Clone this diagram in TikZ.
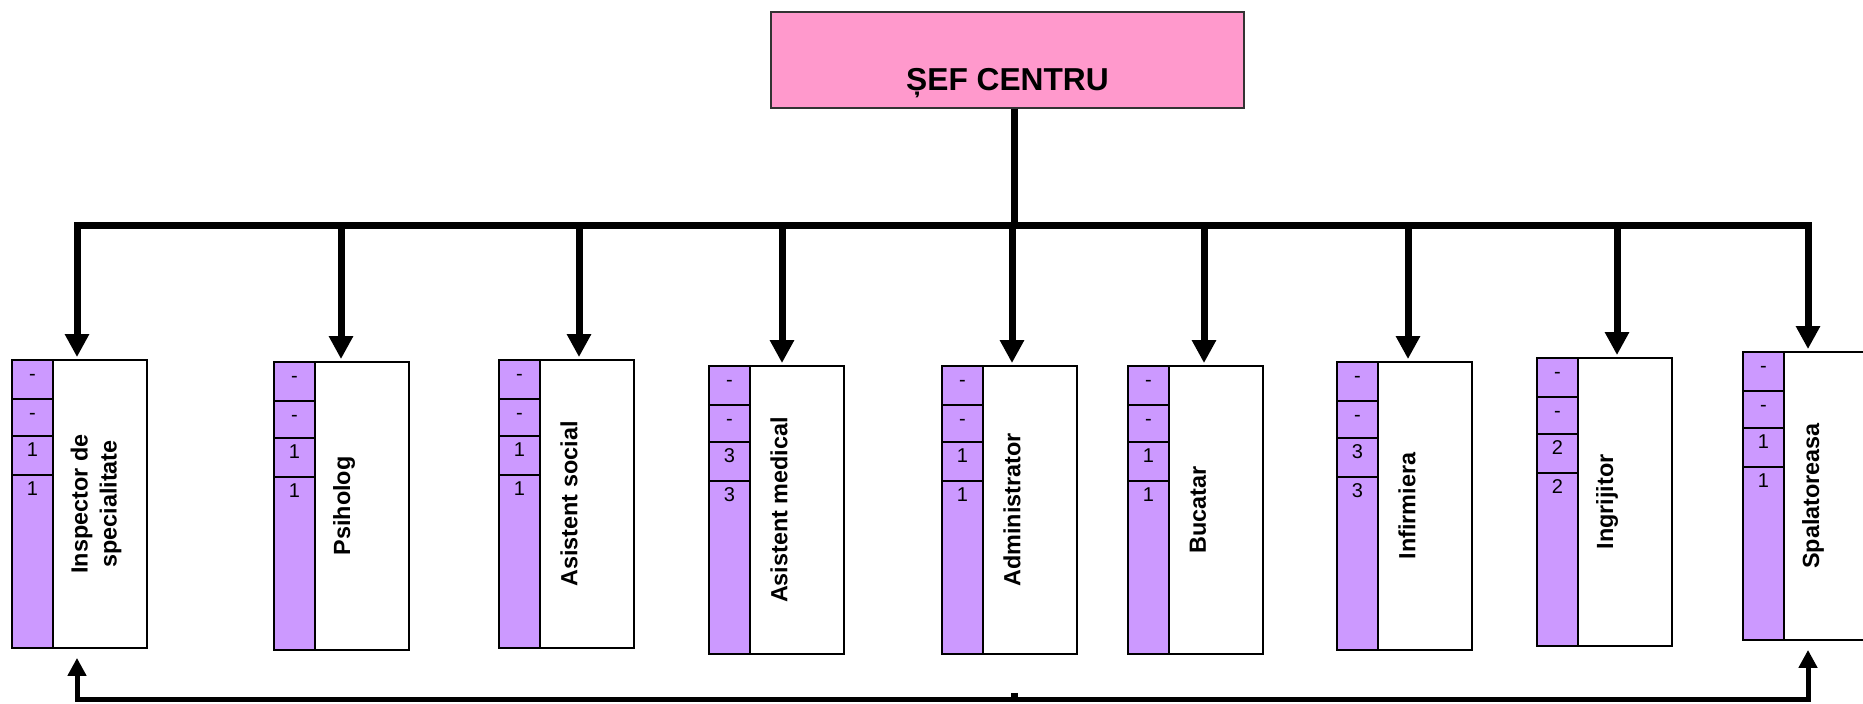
\documentclass[tikz,border=0pt]{standalone}
\usepackage{fontspec}
\setmainfont{Liberation Sans}
\usetikzlibrary{arrows.meta}
\definecolor{sefpink}{HTML}{FF99CC}
\definecolor{lila}{HTML}{CC99FF}

\begin{document}
\begin{tikzpicture}[x=0.5pt, y=-0.5pt,
    bar/.style={line width=3.5pt},
    down/.style={line width=3.5pt, -{Triangle[width=11.5pt,length=11.5pt]}, shorten >=1pt},
    post/.style={draw, line width=0.9pt, fill=white, minimum width=67.5pt, minimum height=144pt, inner sep=0pt},
    cell/.style={draw, line width=0.9pt, fill=lila},
    num/.style={anchor=base, inner sep=0pt, font=\fontsize{10pt}{12pt}\selectfont},
    job/.style={rotate=90, align=center, inner sep=0pt, font=\fontsize{11.7pt}{14.5pt}\selectfont\bfseries}
    ]
    \clip (0,0) rectangle (1863,704);
    \node[draw=black!80, line width=0.6pt, fill=sefpink, minimum width=236.5pt, minimum height=48pt, inner sep=0pt] (sef) at (1007.5,60) {};
    \node[anchor=base, inner sep=0pt, font=\fontsize{15.85pt}{18pt}\selectfont\bfseries] (sefname) at (1007.5,91) {ȘEF CENTRU};
    % posts
    \foreach \l/\t/\n/\a/\lx/\txt [count=\i] in {
        12/360/1/77/96/{Inspector de\\specialitate},
        274/362/1/341/344/Psiholog,
        499/360/1/579/569/Asistent social,
        709/366/3/782/779/Asistent medical,
        942/366/1/1012/1012/Administrator,
        1128/366/1/1204/1198/Bucatar,
        1337/362/3/1408/1407/Infirmiera,
        1537/358/2/1617/1607/Ingrijitor,
        1743/352/1/1808/1813/Spalatoreasa}
    {
      \node[post] (b\i) at (\l+67.5,\t+144) {};
      \draw[cell] (\l,\t) rectangle ++(41,39) (\l,\t+39) rectangle ++(41,37)
        (\l,\t+76) rectangle ++(41,39) (\l,\t+115) rectangle ++(41,173);
      \node[num] at (\l+20.5,\t+21) {-};
      \node[num] at (\l+20.5,\t+60) {-};
      \node[num] at (\l+20.5,\t+97) {\n};
      \node[num] at (\l+20.5,\t+136) {\n};
      \node[job] (j\i) at (\lx,\t+144) {\txt};
      \coordinate (t\i) at (\a,226);
      \draw[down] (t\i) -- (t\i |- b\i.north);
    }
    \coordinate (knot) at (1014,226);
    \draw[bar] (sef.south -| knot) -- (knot);
    \draw[bar, line cap=rect] (t1) -- (t9);
    % back link
    \coordinate (s1) at (77,700);
    \coordinate (s9) at (1808,700);
    \draw[line width=2.5pt, {Triangle[width=9pt,length=9pt]}-{Triangle[width=9pt,length=9pt]}, shorten <=4.5pt, shorten >=4.5pt]
      (b1.south -| s1) -- (s1) -- (s9) -- (b9.south -| s9);
    \coordinate (stub) at (1014,693);
    \draw[bar] (stub) -- (stub |- s1);
\end{tikzpicture}
\end{document}
